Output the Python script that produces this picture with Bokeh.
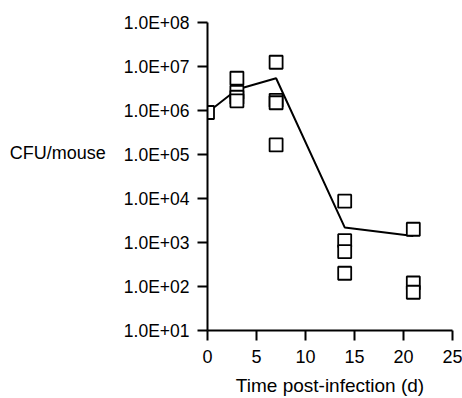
from bokeh.plotting import figure
from bokeh.models import FixedTicker, Range1d
from bokeh.embed import file_html
from bokeh.resources import INLINE

# Individual mice (day, CFU/mouse)
obs_days = [0, 3, 3, 3, 3, 7, 7, 7, 7, 14, 14, 14, 14, 21, 21, 21]
obs_cfu = [9.0e5, 5.4e6, 2.6e6, 2.0e6, 1.66e6, 1.25e7, 1.7e6, 1.5e6, 1.65e5,
           8.7e3, 1.1e3, 6.2e2, 2.0e2, 2.0e3, 1.2e2, 7.4e1]

# Mean line
mean_days = [0, 3, 7, 14, 21]
mean_cfu = [9.0e5, 3.0e6, 5.4e6, 2.2e3, 1.4e3]

y_ticks = [1e1, 1e2, 1e3, 1e4, 1e5, 1e6, 1e7, 1e8]
y_tick_labels = ["1.0E+01", "1.0E+02", "1.0E+03", "1.0E+04",
                 "1.0E+05", "1.0E+06", "1.0E+07", "1.0E+08"]
x_ticks = [0, 5, 10, 15, 20, 25]

FONT = "Liberation Sans"

p = figure(width=462, height=398, y_axis_type="log",
           x_range=Range1d(0, 25), y_range=Range1d(1e1, 1e8),
           output_backend="svg", toolbar_location=None,
           min_border_left=207, min_border_right=10,
           min_border_top=22, min_border_bottom=65)
p.outline_line_color = None
p.grid.visible = False
p.background_fill_color = "white"
p.border_fill_color = "white"

p.line(mean_days, mean_cfu, line_color="black", line_width=2)
p.scatter(obs_days, obs_cfu, marker="square", size=13, fill_color="white",
          line_color="black", line_width=1.8)

for ax in (p.xaxis[0], p.yaxis[0]):
    ax.axis_line_width = 2
    ax.major_tick_line_width = 2
    ax.major_tick_in = 0
    ax.major_tick_out = 10
    ax.minor_tick_line_color = None
    ax.major_label_text_font = FONT
    ax.major_label_text_color = "black"
    ax.axis_label_text_font = FONT
    ax.axis_label_text_font_style = "normal"
    ax.axis_label_text_color = "black"

p.xaxis.ticker = FixedTicker(ticks=x_ticks)
p.xaxis.major_label_text_font_size = "18px"
p.xaxis.major_label_standoff = 9
p.xaxis.axis_label = "Time post-infection (d)"
p.xaxis.axis_label_text_font_size = "19px"
p.xaxis.axis_label_standoff = 9

p.yaxis.ticker = FixedTicker(ticks=y_ticks)
p.yaxis.major_label_overrides = {t: s for t, s in zip(y_ticks, y_tick_labels)}
p.yaxis.major_label_text_font_size = "17.5px"
p.yaxis.major_label_standoff = 8
p.yaxis.axis_label = "CFU/mouse\n\n"
p.yaxis.axis_label_orientation = "horizontal"
p.yaxis.axis_label_text_font_size = "18px"
p.yaxis.axis_label_standoff = 15

open("out.html", "w").write(file_html(p, INLINE))
